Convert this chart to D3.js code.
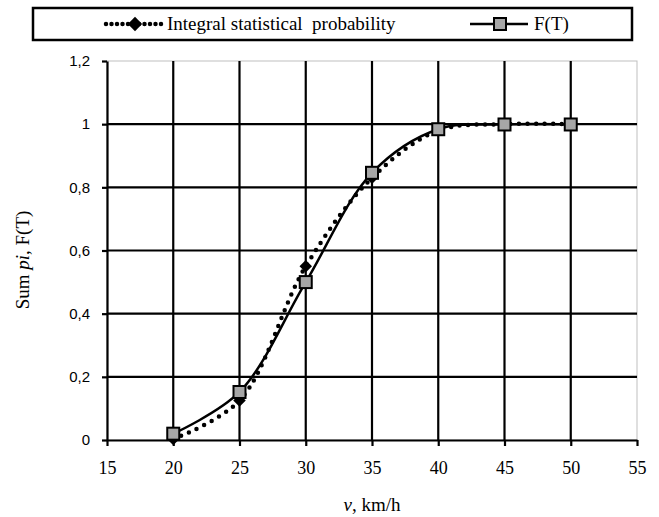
<!DOCTYPE html>
<html>
<head>
<meta charset="utf-8">
<script src="https://cdn.jsdelivr.net/npm/d3@7"></script>
<style>
  body { margin: 0; background: #fff; }
  .serif { font-family: "Liberation Serif", "Times New Roman", serif; }
  .sans { font-family: "Liberation Sans", Arial, sans-serif; }
</style>
</head>
<body>
<div id="vis"></div>
<script>
const W = 659, H = 517;
const margin = { top: 61, right: 22, bottom: 77, left: 107 };
const width = W - margin.left - margin.right;
const height = H - margin.top - margin.bottom;

// data
const speeds = [20, 25, 30, 35, 40, 45, 50];
const statProb = [0.003, 0.125, 0.55, 0.83, 0.98, 1.0, 1.0];
const fT = [0.02, 0.152, 0.5, 0.846, 0.984, 0.999, 0.999];
const xTicks = [15, 20, 25, 30, 35, 40, 45, 50, 55];
const yTicks = [0, 0.2, 0.4, 0.6, 0.8, 1, 1.2];
const seriesNames = ['Integral statistical\u00a0 probability', 'F(T)'];

const svg = d3.select('#vis')
    .append('svg')
    .attr('width', W)
    .attr('height', H);

const g = svg.append('g')
    .attr('transform', `translate(${margin.left},${margin.top})`);

const xScale = d3.scaleLinear().domain([15, 55]).range([0, width]);
const yScale = d3.scaleLinear().domain([0, 1.2]).range([height, 0]);

// plot border (light gray)
g.append('rect')
    .attr('width', width).attr('height', height)
    .attr('fill', 'none').attr('stroke', '#bfbfbf').attr('stroke-width', 1);

// grid
g.selectAll('.vgrid')
    .data(xTicks.filter(d => d > 15 && d < 55))
    .join('line')
    .attr('x1', d => xScale(d)).attr('x2', d => xScale(d))
    .attr('y1', 0).attr('y2', height)
    .attr('stroke', '#000').attr('stroke-width', 2.2);

g.selectAll('.hgrid')
    .data(yTicks.filter(d => d > 0 && d < 1.2))
    .join('line')
    .attr('x1', 0).attr('x2', width)
    .attr('y1', d => yScale(d)).attr('y2', d => yScale(d))
    .attr('stroke', '#000').attr('stroke-width', 2.2);

// axes
const xAxis = d3.axisBottom(xScale).tickValues(xTicks).tickSize(6).tickPadding(15)
    .tickSizeOuter(0).tickFormat(d3.format('d'));
const gx = g.append('g')
    .attr('transform', `translate(0,${height})`)
    .call(xAxis);
gx.select('.domain').attr('stroke', '#000').attr('stroke-width', 2.2);
gx.selectAll('.tick line').attr('stroke', '#000').attr('stroke-width', 2.2);
gx.selectAll('.tick text').attr('class', 'serif').attr('font-size', 18).attr('fill', '#000');

const yAxis = d3.axisLeft(yScale).tickValues(yTicks).tickSize(5).tickPadding(12)
    .tickSizeOuter(0).tickFormat(d => d3.format('.1~f')(d).replace('.', ','));
const gy = g.append('g').call(yAxis);
gy.select('.domain').attr('stroke', '#000').attr('stroke-width', 2.2);
gy.selectAll('.tick line').attr('stroke', '#000').attr('stroke-width', 2.2);
gy.selectAll('.tick text').attr('class', 'sans').attr('font-size', 15).attr('fill', '#000');

// axis titles
const xt = svg.append('text')
    .attr('class', 'serif')
    .attr('x', margin.left + width / 2)
    .attr('y', 511)
    .attr('text-anchor', 'middle')
    .attr('font-size', 19);
xt.append('tspan').attr('font-style', 'italic').text('v');
xt.append('tspan').text(', km/h');

const yt = svg.append('text')
    .attr('class', 'serif')
    .attr('transform', 'translate(29,260) rotate(-90)')
    .attr('text-anchor', 'middle')
    .attr('font-size', 19);
yt.append('tspan').text('Sum ');
yt.append('tspan').attr('font-style', 'italic').text('pi');
yt.append('tspan').text(', F(T)');

// lines
const line = d3.line()
    .x(d => xScale(d[0]))
    .y(d => yScale(d[1]))
    .curve(d3.curveCatmullRom.alpha(0.5));

const statData = speeds.map((s, i) => [s, statProb[i]]);
const fData = speeds.map((s, i) => [s, fT[i]]);

g.append('path')
    .datum(statData)
    .attr('d', line)
    .attr('fill', 'none')
    .attr('stroke', '#000')
    .attr('stroke-width', 4.5)
    .attr('stroke-linecap', 'round')
    .attr('stroke-dasharray', '0 8.5');

const diamond = d3.symbol().type(d3.symbolDiamond2).size(100);
g.selectAll('.diam')
    .data(statData)
    .join('path')
    .attr('transform', d => `translate(${xScale(d[0])},${yScale(d[1])})`)
    .attr('d', diamond)
    .attr('fill', '#000');

g.append('path')
    .datum(fData)
    .attr('d', line)
    .attr('fill', 'none')
    .attr('stroke', '#000')
    .attr('stroke-width', 2.5);

g.selectAll('.sq')
    .data(fData)
    .join('rect')
    .attr('x', d => xScale(d[0]) - 6)
    .attr('y', d => yScale(d[1]) - 6)
    .attr('width', 12).attr('height', 12)
    .attr('fill', '#a6a6a6')
    .attr('stroke', '#000')
    .attr('stroke-width', 2);

// legend
const lg = svg.append('g');
lg.append('rect')
    .attr('x', 33).attr('y', 8).attr('width', 599).attr('height', 32)
    .attr('fill', '#fff').attr('stroke', '#000').attr('stroke-width', 2.5);

const ly = 24;
lg.append('line')
    .attr('x1', 106).attr('x2', 162).attr('y1', ly).attr('y2', ly)
    .attr('stroke', '#000').attr('stroke-width', 4.5)
    .attr('stroke-linecap', 'round').attr('stroke-dasharray', '0 5.5');
lg.append('path')
    .attr('transform', `translate(135,${ly})`)
    .attr('d', d3.symbol().type(d3.symbolDiamond2).size(130)).attr('fill', '#000');
lg.append('text')
    .attr('class', 'serif')
    .attr('x', 167).attr('y', ly + 6)
    .attr('font-size', 19)
    .style('white-space', 'pre')
    .text(seriesNames[0]);

lg.append('line')
    .attr('x1', 470).attr('x2', 528).attr('y1', ly).attr('y2', ly)
    .attr('stroke', '#000').attr('stroke-width', 2.5);
lg.append('rect')
    .attr('x', 494).attr('y', ly - 6).attr('width', 12).attr('height', 12)
    .attr('fill', '#a6a6a6').attr('stroke', '#000').attr('stroke-width', 2);
lg.append('text')
    .attr('class', 'serif')
    .attr('x', 534).attr('y', ly + 6)
    .attr('font-size', 19)
    .text(seriesNames[1]);
</script>
</body>
</html>
